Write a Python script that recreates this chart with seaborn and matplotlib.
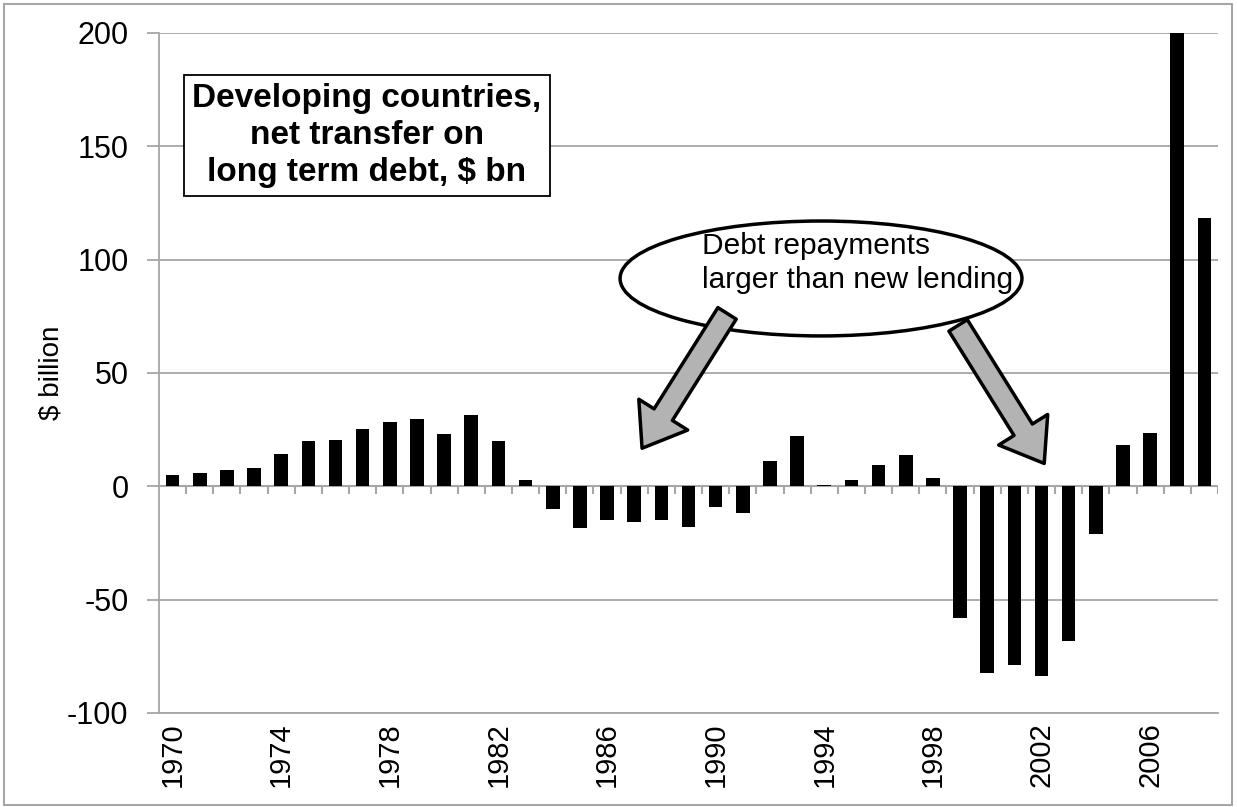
import numpy as np
import pandas as pd
import matplotlib.pyplot as plt
from matplotlib.patches import Ellipse, Rectangle
import seaborn as sns

# net transfer on long term debt, $ bn
years = list(range(1970, 2009))
values = [5.0, 5.9, 7.3, 8.1, 14.4, 19.9, 20.6, 25.2, 28.3, 29.7,
          23.0, 31.3, 19.9, 2.6, -9.8, -18.5, -14.7, -15.6, -14.7, -18.0,
          -9.1, -11.8, 11.3, 22.1, 0.5, 2.6, 9.6, 13.7, 3.5, -58.0,
          -82.3, -78.7, -83.6, -68.1, -20.9, 18.4, 23.7, 201.0, 118.2]
tick_years = [str(y) for y in range(1970, 2009, 4)]
y_ticks = [-100, -50, 0, 50, 100, 150, 200]

df = pd.DataFrame({'year': [str(y) for y in years], 'value': values})

sns.set_style('white')
plt.rcParams['font.family'] = ['Liberation Sans', 'DejaVu Sans']
plt.rcParams['axes.unicode_minus'] = False
plt.rcParams['text.color'] = 'black'
plt.rcParams['axes.labelcolor'] = 'black'
plt.rcParams['xtick.color'] = 'black'
plt.rcParams['ytick.color'] = 'black'

grey = '#a6a6a6'
fig = plt.figure(figsize=(12.37, 8.07), dpi=100)
ax = fig.add_axes([159 / 1237, 94 / 807, 1059 / 1237, 680 / 807])

sns.barplot(data=df, x='year', y='value', color='black', saturation=1,
            width=0.5, linewidth=0, ax=ax, zorder=3)
ax.set_xlim(-0.5, len(years) - 0.5)
ax.set_ylim(-100, 200)
ax.set_yticks(y_ticks)
ax.tick_params(axis='y', labelsize=22, length=9, width=1.3, color=grey,
               labelcolor='black', direction='out', pad=13, left=True)
ax.set_xticks([years.index(int(t)) for t in tick_years])
ax.set_xticklabels(tick_years, rotation=90, fontsize=21)
ax.tick_params(axis='x', length=0, pad=7, labelcolor='black')
ax.set_xlabel('')
ax.set_ylabel('$ billion', fontsize=20, labelpad=2)
ax.grid(axis='y', color=grey, lw=1.3, zorder=0)
ax.set_axisbelow(True)
for s in ['top', 'right']:
    ax.spines[s].set_visible(False)
for s in ['left', 'bottom']:
    ax.spines[s].set_color(grey)
    ax.spines[s].set_linewidth(1.3)

# zero line with category boundary ticks
ax.axhline(0, color=grey, lw=1.5, zorder=2)
bounds = np.arange(len(years)) + 0.5
ax.vlines(bounds, -3.6, 0, color=grey, lw=1.5, zorder=2)

# title box
ax.text(7.16, 154.6, 'Developing countries,\nnet transfer on\nlong term debt, $ bn',
        fontsize=24, fontweight='bold', ha='center', va='center',
        linespacing=1.25, zorder=5,
        bbox=dict(boxstyle='square,pad=0.24', fc='white', ec='black', lw=1.3))

# callout ellipse and arrows
ax.add_patch(Ellipse((23.88, 91.7), 14.8, 50.7, fc='white', ec='black',
                     lw=2.5, zorder=5))
ax.text(19.5, 98.5, 'Debt repayments\nlarger than new lending', fontsize=21.5,
        ha='left', va='center', linespacing=1.3, zorder=6)
arrow_style = dict(arrowstyle='simple,head_length=1.1,head_width=1.6,tail_width=0.6',
                   fc='#b3b3b3', ec='black', lw=2.5, mutation_scale=26,
                   shrinkA=0, shrinkB=0)
ax.annotate('', xy=(17.29, 16.8), xytext=(20.42, 76.3), arrowprops=arrow_style,
            zorder=6)
ax.annotate('', xy=(32.1, 10.1), xytext=(28.93, 71.0), arrowprops=arrow_style,
            zorder=6)

# outer frame
fig.patches.append(Rectangle((4 / 1237, 2 / 807), 1228 / 1237, 801 / 807,
                             transform=fig.transFigure, fill=False,
                             ec=grey, lw=1.5))

fig.savefig('out.png', dpi=100)
